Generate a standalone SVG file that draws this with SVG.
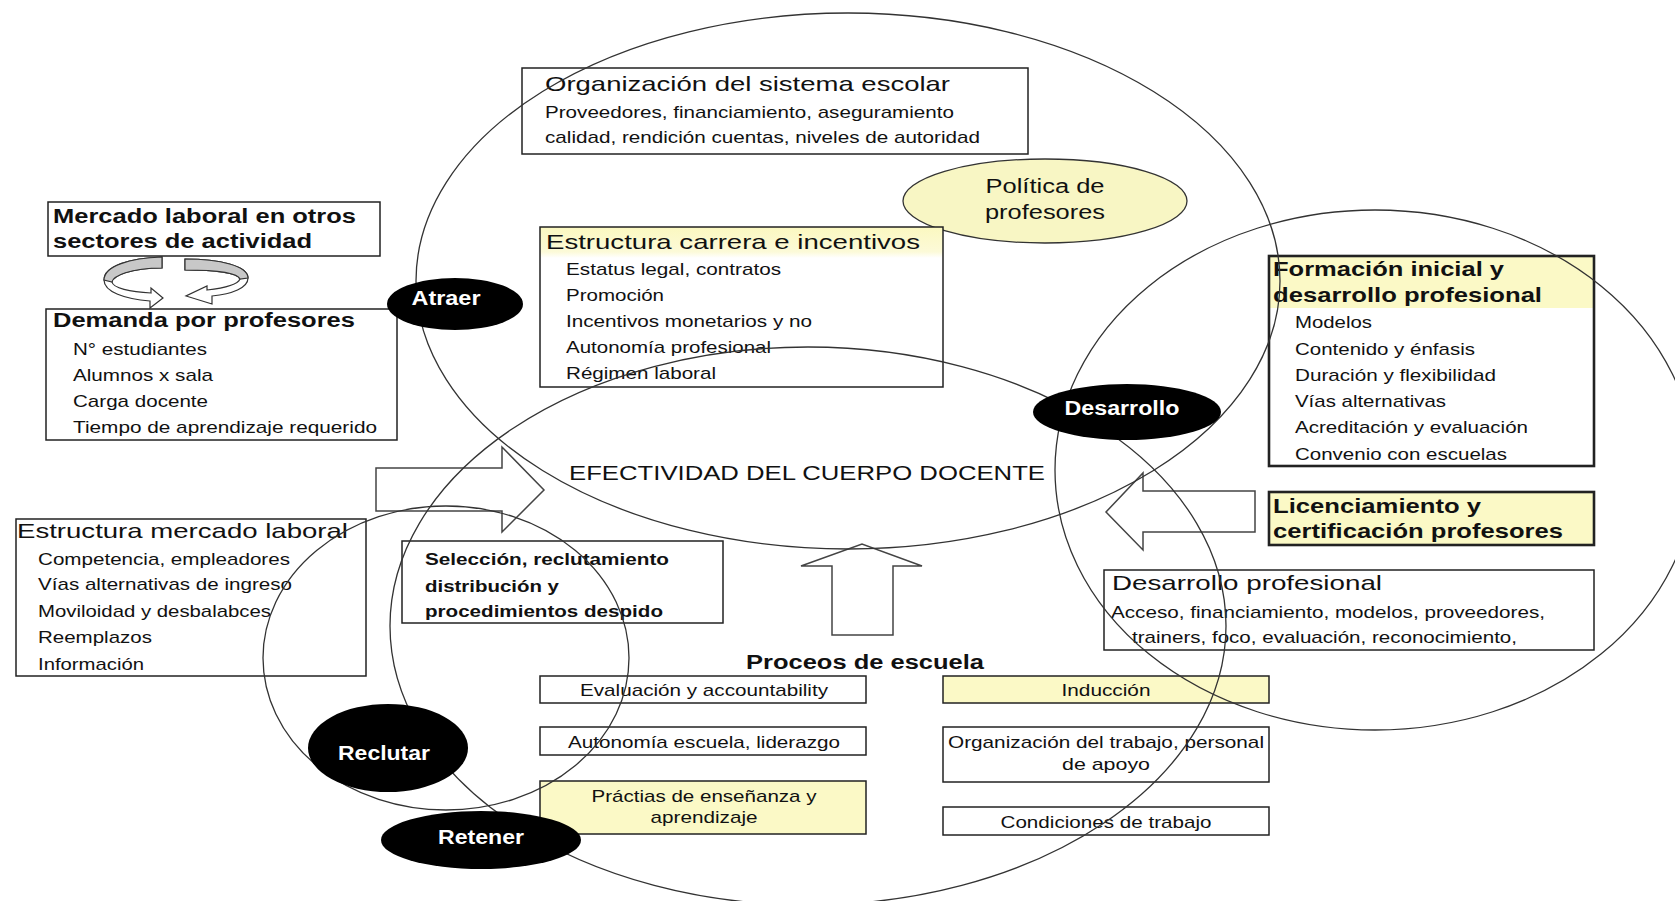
<svg xmlns="http://www.w3.org/2000/svg" width="1675" height="901" viewBox="0 0 1675 901">
<style>
.t{font-family:"Liberation Sans",Arial,sans-serif;fill:#111}
.s{font-size:17px}
.h{font-size:21px}
.b{font-size:20px;font-weight:bold}
.b21{font-size:21px;font-weight:bold}
.sb{font-size:17px;font-weight:bold}
.w{font-family:"Liberation Sans",Arial,sans-serif;fill:#fff;font-size:20px;font-weight:bold}
.m{text-anchor:middle}
.box{fill:none;stroke:#222;stroke-width:1.5}
.thick{stroke-width:2.6}
.yel{fill:#fbf9c6}
.ring{fill:none;stroke:#333;stroke-width:1.3}
.blk{fill:#000}
.arw{fill:#fff;stroke:#444;stroke-width:1.5}
.cyc{fill:#fff;stroke:#333;stroke-width:1.2}
.cycg{fill:#c8c8c8;stroke:#333;stroke-width:1.2}
</style>
<defs>
<linearGradient id="hl" x1="0" y1="0" x2="0" y2="1">
<stop offset="0" stop-color="#fbf8c0"/>
<stop offset="0.8" stop-color="#fcfad8"/>
<stop offset="1" stop-color="#ffffff"/>
</linearGradient>
</defs>
<rect width="1675" height="901" fill="#fff"/>

<g id="connectors">
<path class="arw" d="M376,468 L502,468 L502,447 L544,490 L502,532 L502,511 L376,511 Z"/>
<path class="arw" d="M1255,491 L1143,491 L1143,473 L1106,512 L1143,550 L1143,532 L1255,532 Z"/>
<path class="arw" d="M832,635 L832,566 L801,566 L862,544 L922,566 L893,566 L893,635 Z"/>
<path class="cyc" d="M162,257 C130,258 104,266 104,280 C104,292 125,299 150,301 L150,308 L163,298 L151,288 L151,293 C130,292 113,288 112,282 C113,276 130,268 162,268 Z"/>
<path class="cycg" d="M162,257 C130,258 104,266 104,280 L112,282 C113,276 130,268 162,268 Z"/>
<path class="cyc" d="M185,259 C220,259 248,266 248,278 C248,288 232,294 212,296 L212,304 L186,296 L207,286 L207,290 C225,288 238,284 240,279 C238,273 215,270 185,270 Z"/>
<path class="cycg" d="M185,259 C220,259 248,266 248,278 L240,279 C238,273 215,270 185,270 Z"/>
</g>

<g id="organizacion">
<rect class="box" x="522" y="68" width="506" height="86"/>
<text class="t h" x="545" y="91" textLength="405" lengthAdjust="spacingAndGlyphs">Organización del sistema escolar</text>
<text class="t s" x="545" y="118" textLength="409" lengthAdjust="spacingAndGlyphs">Proveedores, financiamiento, aseguramiento</text>
<text class="t s" x="545" y="143" textLength="435" lengthAdjust="spacingAndGlyphs">calidad, rendición cuentas, niveles de autoridad</text>
</g>

<g id="politica">
<ellipse cx="1045" cy="201" rx="142" ry="42" fill="#f8f6c4" stroke="#333" stroke-width="1.3"/>
<text class="t m" style="font-size:20px" x="1045" y="193" textLength="119" lengthAdjust="spacingAndGlyphs">Política de</text>
<text class="t m" style="font-size:20px" x="1045" y="219" textLength="120" lengthAdjust="spacingAndGlyphs">profesores</text>
</g>

<g id="estructura-carrera">
<rect x="540" y="227" width="403" height="31" fill="url(#hl)"/>
<rect class="box" x="540" y="227" width="403" height="160"/>
<text class="t h" x="546" y="249" textLength="374" lengthAdjust="spacingAndGlyphs">Estructura carrera e incentivos</text>
<text class="t s" x="566" y="275" textLength="215" lengthAdjust="spacingAndGlyphs">Estatus legal, contratos</text>
<text class="t s" x="566" y="301" textLength="98" lengthAdjust="spacingAndGlyphs">Promoción</text>
<text class="t s" x="566" y="327" textLength="246" lengthAdjust="spacingAndGlyphs">Incentivos monetarios y no</text>
<text class="t s" x="566" y="353" textLength="205" lengthAdjust="spacingAndGlyphs">Autonomía profesional</text>
<text class="t s" x="566" y="379" textLength="150" lengthAdjust="spacingAndGlyphs">Régimen laboral</text>
</g>

<g id="mercado-otros">
<rect class="box" x="48" y="202" width="332" height="54"/>
<text class="t b" x="53" y="223" textLength="303" lengthAdjust="spacingAndGlyphs">Mercado laboral en otros</text>
<text class="t b" x="53" y="248" textLength="259" lengthAdjust="spacingAndGlyphs">sectores de actividad</text>
</g>

<g id="demanda">
<rect class="box" x="46" y="309" width="351" height="131"/>
<text class="t b" x="53" y="327" textLength="302" lengthAdjust="spacingAndGlyphs">Demanda por profesores</text>
<text class="t s" x="73" y="355" textLength="134" lengthAdjust="spacingAndGlyphs">N° estudiantes</text>
<text class="t s" x="73" y="381" textLength="140" lengthAdjust="spacingAndGlyphs">Alumnos x sala</text>
<text class="t s" x="73" y="407" textLength="135" lengthAdjust="spacingAndGlyphs">Carga docente</text>
<text class="t s" x="73" y="433" textLength="304" lengthAdjust="spacingAndGlyphs">Tiempo de aprendizaje requerido</text>
</g>

<g id="formacion">
<rect class="yel" x="1269" y="256" width="325" height="52"/>
<rect class="box thick" x="1269" y="256" width="325" height="210"/>
<text class="t b21" x="1273" y="276" textLength="231" lengthAdjust="spacingAndGlyphs">Formación inicial y</text>
<text class="t b21" x="1273" y="302" textLength="269" lengthAdjust="spacingAndGlyphs">desarrollo profesional</text>
<text class="t s" x="1295" y="328" textLength="77" lengthAdjust="spacingAndGlyphs">Modelos</text>
<text class="t s" x="1295" y="355" textLength="180" lengthAdjust="spacingAndGlyphs">Contenido y énfasis</text>
<text class="t s" x="1295" y="381" textLength="201" lengthAdjust="spacingAndGlyphs">Duración y flexibilidad</text>
<text class="t s" x="1295" y="407" textLength="151" lengthAdjust="spacingAndGlyphs">Vías alternativas</text>
<text class="t s" x="1295" y="433" textLength="233" lengthAdjust="spacingAndGlyphs">Acreditación y evaluación</text>
<text class="t s" x="1295" y="460" textLength="212" lengthAdjust="spacingAndGlyphs">Convenio con escuelas</text>
</g>

<g id="licenciamiento">
<rect class="box thick yel" x="1269" y="492" width="325" height="53"/>
<text class="t b21" x="1273" y="513" textLength="208" lengthAdjust="spacingAndGlyphs">Licenciamiento y</text>
<text class="t b21" x="1273" y="538" textLength="290" lengthAdjust="spacingAndGlyphs">certificación profesores</text>
</g>

<g id="desarrollo-profesional">
<rect class="box" x="1104" y="570" width="490" height="80"/>
<text class="t h" x="1112" y="590" textLength="270" lengthAdjust="spacingAndGlyphs">Desarrollo profesional</text>
<text class="t s" x="1111" y="618" textLength="434" lengthAdjust="spacingAndGlyphs">Acceso, financiamiento, modelos, proveedores,</text>
<text class="t s" x="1132" y="643" textLength="385" lengthAdjust="spacingAndGlyphs">trainers, foco, evaluación, reconocimiento,</text>
</g>

<g id="estructura-mercado">
<rect class="box" x="16" y="519" width="350" height="157"/>
<text class="t h" x="17" y="538" textLength="331" lengthAdjust="spacingAndGlyphs">Estructura mercado laboral</text>
<text class="t s" x="38" y="565" textLength="252" lengthAdjust="spacingAndGlyphs">Competencia, empleadores</text>
<text class="t s" x="38" y="590" textLength="254" lengthAdjust="spacingAndGlyphs">Vías alternativas de ingreso</text>
<text class="t s" x="38" y="617" textLength="233" lengthAdjust="spacingAndGlyphs">Moviloidad y desbalabces</text>
<text class="t s" x="38" y="643" textLength="114" lengthAdjust="spacingAndGlyphs">Reemplazos</text>
<text class="t s" x="38" y="670" textLength="106" lengthAdjust="spacingAndGlyphs">Información</text>
</g>

<g id="seleccion">
<rect class="box" x="402" y="541" width="321" height="82"/>
<text class="t sb" x="425" y="565" textLength="244" lengthAdjust="spacingAndGlyphs">Selección, reclutamiento</text>
<text class="t sb" x="425" y="592" textLength="134" lengthAdjust="spacingAndGlyphs">distribución y</text>
<text class="t sb" x="425" y="617" textLength="238" lengthAdjust="spacingAndGlyphs">procedimientos despido</text>
</g>

<g id="efectividad">
<text class="t h" x="569" y="480" textLength="476" lengthAdjust="spacingAndGlyphs">EFECTIVIDAD DEL CUERPO DOCENTE</text>
</g>

<g id="procesos">
<text class="t b" x="746" y="669" textLength="238" lengthAdjust="spacingAndGlyphs">Proceos de escuela</text>
</g>

<g id="evaluacion">
<rect class="box" x="540" y="676" width="326" height="27"/>
<text class="t s m" x="704" y="696" textLength="248" lengthAdjust="spacingAndGlyphs">Evaluación y accountability</text>
</g>
<g id="autonomia-escuela">
<rect class="box" x="540" y="727" width="326" height="28"/>
<text class="t s m" x="704" y="748" textLength="272" lengthAdjust="spacingAndGlyphs">Autonomía escuela, liderazgo</text>
</g>
<g id="practicas">
<rect class="box yel" x="540" y="781" width="326" height="53"/>
<text class="t s m" x="704" y="802" textLength="225" lengthAdjust="spacingAndGlyphs">Práctias de enseñanza y</text>
<text class="t s m" x="704" y="823" textLength="107" lengthAdjust="spacingAndGlyphs">aprendizaje</text>
</g>
<g id="induccion">
<rect class="box yel" x="943" y="676" width="326" height="27"/>
<text class="t s m" x="1106" y="696" textLength="89" lengthAdjust="spacingAndGlyphs">Inducción</text>
</g>
<g id="organizacion-trabajo">
<rect class="box" x="943" y="727" width="326" height="55"/>
<text class="t s m" x="1106" y="748" textLength="316" lengthAdjust="spacingAndGlyphs">Organización del trabajo, personal</text>
<text class="t s m" x="1106" y="770" textLength="88" lengthAdjust="spacingAndGlyphs">de apoyo</text>
</g>
<g id="condiciones">
<rect class="box" x="943" y="807" width="326" height="28"/>
<text class="t s m" x="1106" y="828" textLength="211" lengthAdjust="spacingAndGlyphs">Condiciones de trabajo</text>
</g>

<g id="cycles">
<ellipse class="ring" cx="848" cy="281" rx="432" ry="268"/>
<ellipse class="ring" cx="808" cy="626" rx="418" ry="279"/>
<ellipse class="ring" cx="446" cy="658" rx="183" ry="152"/>
<ellipse class="ring" cx="1375" cy="470" rx="320" ry="260"/>
</g>

<g id="atraer">
<ellipse class="blk" cx="455" cy="304" rx="68" ry="26"/>
<text class="w m" x="446" y="305" textLength="69" lengthAdjust="spacingAndGlyphs">Atraer</text>
</g>
<g id="desarrollo">
<ellipse class="blk" cx="1127" cy="412" rx="94" ry="28"/>
<text class="w m" x="1122" y="415" textLength="115" lengthAdjust="spacingAndGlyphs">Desarrollo</text>
</g>
<g id="reclutar">
<ellipse class="blk" cx="388" cy="748" rx="80" ry="44"/>
<text class="w m" x="384" y="760" textLength="92" lengthAdjust="spacingAndGlyphs">Reclutar</text>
</g>
<g id="retener">
<ellipse class="blk" cx="481" cy="840" rx="100" ry="29"/>
<text class="w m" x="481" y="844" textLength="86" lengthAdjust="spacingAndGlyphs">Retener</text>
</g>
</svg>
